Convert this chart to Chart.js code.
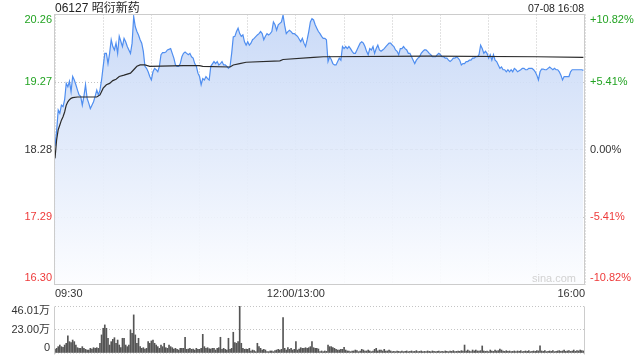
<!DOCTYPE html>
<html><head><meta charset="utf-8">
<script src="https://cdn.jsdelivr.net/npm/chart.js@4.4.1/dist/chart.umd.min.js"></script>
<style>
html,body{margin:0;padding:0;background:#fff;width:640px;height:360px;overflow:hidden}
#wrapA{position:absolute;left:0;top:0;width:640px;height:300px}
#wrapB{position:absolute;left:0;top:300px;width:640px;height:60px}
canvas{display:block}
</style></head>
<body>
<div id="wrapA"><canvas id="price" width="640" height="300"></canvas></div>
<div id="wrapB"><canvas id="vol" width="640" height="60"></canvas></div>
<script>
// ---------- data ----------
const title = '06127 昭衍新药';
const stamp = '07-08 16:08';
const prevClose = 18.28;
const priceTicks = [16.30, 17.29, 18.28, 19.27, 20.26];
const pctLabels = ['-10.82%', '-5.41%', '0.00%', '+5.41%', '+10.82%'];
const gridMinutes = [0, 30, 60, 90, 120, 150, 180, 210, 240, 270, 300, 330];
const timeTicks = [0, 150, 330];
const timeLabels = ['09:30', '12:00/13:00', '16:00'];
const volTicks = [0, 23.00, 46.01];
const volLabels = ['0', '23.00万', '46.01万'];

// price per trading minute since 09:30 (null = not read)
const price = [
18.33,18.55,18.86,18.81,18.93,18.91,19.01,19.25,19.20,19.28,
19.13,19.35,19.30,19.23,19.15,19.08,19.06,18.93,19.06,19.23,
19.03,18.96,18.88,18.93,18.98,19.06,19.15,19.08,19.15,19.30,
19.50,19.69,19.69,19.54,19.69,19.89,19.79,19.74,19.84,19.69,
19.94,null,19.79,19.91,19.86,19.79,19.74,19.69,19.84,20.23,
20.08,20.01,19.96,19.89,19.84,19.72,19.50,19.47,19.42,19.35,
19.30,19.42,19.47,19.45,19.42,19.50,19.67,19.70,19.70,19.71,
19.74,null,19.76,19.69,19.62,19.52,19.50,19.50,19.54,19.64,
19.69,19.71,19.69,19.67,19.69,19.64,19.62,19.54,19.50,19.40,
19.35,19.23,19.32,19.30,19.35,19.32,19.30,19.50,null,19.57,
19.54,19.57,19.52,19.54,19.57,19.52,19.52,19.50,19.47,19.50,
19.69,19.93,19.94,20.01,20.06,19.98,19.94,19.96,19.86,19.81,
19.86,19.81,19.84,19.89,19.91,null,19.96,19.98,20.01,19.98,
19.89,19.94,19.98,19.96,19.98,20.01,20.15,20.11,20.03,20.11,
20.13,20.15,20.25,20.10,19.98,20.01,20.03,20.01,19.98,19.98,
19.96,19.94,null,19.86,19.91,19.84,19.79,19.89,20.01,20.15,
20.20,20.18,20.11,20.06,20.01,19.98,19.94,19.91,19.91,19.89,
19.57,19.64,19.60,19.54,19.52,19.52,19.57,19.62,19.59,19.79,
19.76,19.79,19.76,19.79,19.76,19.72,19.69,19.69,19.74,19.79,
19.84,19.86,19.84,19.79,19.72,19.67,19.76,19.74,19.79,19.69,
19.76,19.81,19.74,19.72,19.74,19.76,19.79,null,19.84,19.84,
19.81,19.79,19.74,19.72,19.67,19.76,19.76,19.79,19.76,19.74,
19.69,19.69,19.64,19.59,19.54,19.59,19.62,19.64,19.69,19.72,
19.74,19.74,19.72,19.69,19.67,19.64,19.64,19.64,19.67,19.69,
19.67,19.64,19.64,19.62,19.62,19.59,19.57,19.59,19.62,19.62,
19.64,19.62,19.59,19.52,19.54,19.54,19.57,19.57,19.59,19.59,
19.62,19.62,19.64,19.64,19.67,19.81,19.76,19.69,19.72,19.69,
19.62,19.67,19.59,19.67,19.59,19.57,19.52,19.47,19.49,19.45,
19.45,19.42,19.45,19.42,19.45,19.42,19.47,19.45,19.42,null,
19.45,19.47,19.47,19.45,19.45,19.47,19.47,19.47,19.45,19.42,
19.37,19.30,19.42,19.46,19.46,19.45,19.45,19.47,19.49,19.47,
19.45,19.47,19.45,19.45,19.42,19.37,19.30,19.35,19.35,19.35,
19.35,19.42,19.45,19.45,19.45,19.45,19.45,19.45,19.45,19.44
];

// average price line, read at these minutes
const avgMinute = [0,1,2,3,4,5,6,7,8,9,10,11,14,26,28,30,32,34,36,38,40,43,47,49,51,53,56,59,80,90,92,109,111,115,119,140,142,161,167,233,300,329];
const avgValue  = [18.15,18.42,18.57,18.64,18.71,18.76,18.83,18.93,18.98,19.01,19.03,19.04,19.05,19.05,19.08,19.18,19.23,19.25,19.29,19.31,19.35,19.37,19.40,19.45,19.50,19.52,19.52,19.50,19.51,19.51,19.50,19.49,19.52,19.54,19.56,19.58,19.60,19.63,19.64,19.65,19.64,19.63];

// volume per minute, in 万
const volume = [
3.6,4.6,6.2,7.8,6.2,5.6,7.8,9.5,16.7,11.1,
10.1,12.7,11.1,7.8,5.2,4.6,4.6,6.2,4.6,3.6,
2.9,2.9,4.6,3.9,5.2,4.6,5.2,4.6,9.5,17.7,
24.2,27.5,24.2,14.4,7.8,11.1,13.4,15.0,9.5,12.7,
7.8,5.2,14.4,14.4,7.8,6.2,7.8,22.6,19.3,37.3,
17.7,9.5,14.4,6.2,4.6,5.2,3.9,4.6,11.1,9.5,
11.8,12.7,9.5,7.8,6.2,4.6,7.8,6.2,9.5,5.2,
4.6,7.8,6.2,5.2,3.9,4.6,3.6,2.9,4.6,4.6,
4.6,15.4,3.6,3.9,4.6,3.6,3.9,2.9,4.6,3.6,
3.6,4.6,18.3,6.2,4.6,5.2,4.2,3.9,4.6,4.6,
2.9,4.6,5.2,15.4,3.6,4.6,3.6,2.9,14.4,3.6,
4.6,20.3,10.1,9.5,11.1,46.0,9.5,4.6,3.6,3.9,
3.6,4.6,2.0,2.9,2.3,1.3,9.5,6.2,4.6,2.9,
3.6,2.9,1.3,1.3,2.0,2.0,1.3,2.3,2.9,3.6,
2.9,3.6,34.7,4.6,2.9,5.2,3.6,4.6,2.9,3.6,
11.1,2.9,3.9,5.2,4.6,4.6,5.2,4.6,5.2,6.2,
11.1,5.2,4.6,4.6,3.9,1.3,2.0,1.3,2.0,1.6,
7.8,6.2,6.2,5.2,4.6,3.6,2.9,2.9,3.6,3.6,
5.6,2.9,2.0,2.0,1.3,2.0,2.0,2.9,2.3,1.3,
2.0,3.6,2.9,2.0,2.0,2.9,2.0,1.3,2.0,3.6,
4.6,2.0,2.9,2.9,2.0,3.6,2.0,2.0,2.9,2.0,
1.3,1.6,1.3,2.0,1.6,1.3,2.0,1.3,1.6,2.0,
1.3,1.6,2.0,1.3,1.6,2.3,1.3,1.6,2.0,1.3,
1.6,1.3,2.0,1.6,1.3,2.0,1.6,1.3,1.6,2.0,
1.3,1.6,1.3,2.0,1.6,1.3,2.0,1.6,2.3,1.3,
1.6,2.0,1.6,2.3,2.0,7.8,2.0,2.9,2.0,1.3,
2.9,2.0,2.9,2.0,2.0,2.3,6.9,2.0,1.6,2.0,
1.3,2.9,2.0,1.6,2.9,2.0,2.3,3.9,2.9,2.0,
1.6,2.3,1.6,2.0,1.3,1.6,2.0,1.3,2.0,1.6,
2.3,1.3,1.6,2.0,1.6,2.3,1.3,1.6,2.0,1.6,
2.3,2.0,6.9,2.0,1.6,2.3,1.3,1.6,2.0,1.6,
2.3,1.3,1.6,2.0,2.3,1.6,2.0,2.9,1.6,2.0,
2.3,1.6,2.0,2.9,1.6,2.3,2.0,2.9,2.3,2.0
];

// ---------- styling ----------
const FONT = "'Liberation Sans', Arial, 'Noto Sans CJK SC', sans-serif";
const GREEN = '#22a322';
const RED = '#ee3a3a';
const DARK = '#333333';
const GRID = '#c4c4c4';
const BORDER = '#cccccc';

function crispBox(ctx, a) {
  const x1 = Math.round(a.left) - 0.5, x2 = Math.round(a.right) - 0.5;
  const y1 = Math.floor(a.top) + 0.5, y2 = Math.floor(a.bottom) + 0.5;
  return {x1, x2, y1, y2};
}

const pricePlugin = {
  id: 'priceDecor',
  beforeDatasetsDraw(chart) {
    const {ctx, chartArea: a, scales: {y}} = chart;
    const py = Math.floor(y.getPixelForValue(prevClose)) + 0.5;
    ctx.save();
    ctx.strokeStyle = '#b2b2b2';
    ctx.lineWidth = 1;
    ctx.setLineDash([3, 2]);
    ctx.beginPath(); ctx.moveTo(a.left, py); ctx.lineTo(a.right, py); ctx.stroke();
    ctx.restore();
  },
  afterDraw(chart) {
    const {ctx, chartArea: a, scales: {x, y}} = chart;
    const b = crispBox(ctx, a);
    ctx.save();
    ctx.strokeStyle = BORDER; ctx.lineWidth = 1; ctx.setLineDash([]);
    ctx.strokeRect(b.x1, b.y1, b.x2 - b.x1, b.y2 - b.y1);

    // price + percent labels
    ctx.font = '11px ' + FONT;
    ctx.textBaseline = 'middle';
    priceTicks.forEach((v, i) => {
      let py = y.getPixelForValue(v);
      if (i === 0) py -= 6.5;
      if (i === priceTicks.length - 1) py += 5.5;
      const col = v > prevClose + 1e-9 ? GREEN : (v < prevClose - 1e-9 ? RED : DARK);
      ctx.fillStyle = col;
      ctx.textAlign = 'right';
      ctx.fillText(v.toFixed(2), a.left - 3, py);
      ctx.textAlign = 'left';
      ctx.fillText(pctLabels[i], a.right + 5, py);
    });

    // time labels
    ctx.fillStyle = DARK;
    timeTicks.forEach((m, i) => {
      const px = x.getPixelForValue(m);
      ctx.textAlign = i === 0 ? 'left' : (i === timeTicks.length - 1 ? 'right' : 'center');
      ctx.fillText(timeLabels[i], px, a.bottom + 9);
    });

    // watermark
    ctx.fillStyle = '#d2d2d2';
    ctx.textAlign = 'right';
    ctx.fillText('sina.com', a.right - 9, a.bottom - 6);

    // title + stamp
    ctx.textBaseline = 'alphabetic';
    ctx.fillStyle = '#222';
    ctx.textAlign = 'left';
    ctx.font = "12px 'Liberation Sans', Arial, 'Noto Sans CJK SC', sans-serif";
    ctx.fillText(title, a.left, 12);
    ctx.textAlign = 'right';
    ctx.font = "10.5px " + FONT;
    ctx.fillText(stamp, a.right - 1, 11.5);
    ctx.restore();
  }
};

const volPlugin = {
  id: 'volDecor',
  afterDraw(chart) {
    const {ctx, chartArea: a, scales: {y}} = chart;
    const b = crispBox(ctx, a);
    ctx.save();
    ctx.strokeStyle = BORDER; ctx.lineWidth = 1;
    ctx.beginPath();
    ctx.moveTo(b.x1, b.y1); ctx.lineTo(b.x1, b.y2 + 1);
    ctx.moveTo(b.x2, b.y1); ctx.lineTo(b.x2, b.y2 + 1);
    ctx.stroke();
    ctx.font = '11px ' + FONT;
    ctx.textBaseline = 'middle';
    ctx.textAlign = 'right';
    ctx.fillStyle = DARK;
    volTicks.forEach((v, i) => {
      let py = y.getPixelForValue(v);
      if (i === 0) py -= 5;
      if (i === volTicks.length - 1) py += 5;
      ctx.fillText(volLabels[i], a.left - 5, py);
    });
    ctx.restore();
  }
};

// ---------- price chart ----------
new Chart(document.getElementById('price'), {
  type: 'line',
  data: {
    datasets: [
      {
        label: '均价',
        data: avgMinute.map((m, i) => ({x: m, y: avgValue[i]})),
        borderColor: '#2b2b2b',
        borderWidth: 1.2,
        pointRadius: 0,
        fill: false,
        order: 0
      },
      {
        label: '价格',
        data: price.map((v, i) => ({x: i, y: v})),
        borderColor: '#4f8ef0',
        borderWidth: 1.2,
        pointRadius: 0,
        spanGaps: true,
        fill: 'start',
        order: 1,
        backgroundColor: (c) => {
          const a = c.chart.chartArea;
          if (!a) return 'rgba(200,218,247,0.7)';
          const g = c.chart.ctx.createLinearGradient(0, a.top, 0, a.bottom);
          g.addColorStop(0, 'rgba(196,214,246,0.9)');
          g.addColorStop(1, 'rgba(252,253,255,0.9)');
          return g;
        }
      }
    ]
  },
  options: {
    responsive: false,
    animation: false,
    devicePixelRatio: 1,
    events: [],
    layout: {padding: {left: 55, right: 55, top: 14.5, bottom: 15.5}},
    plugins: {legend: {display: false}, tooltip: {enabled: false}},
    scales: {
      x: {
        type: 'linear', min: 0, max: 330,
        afterBuildTicks: (s) => { s.ticks = gridMinutes.map(v => ({value: v})); },
        afterFit: (s) => { s.height = 0; },
        ticks: {display: false},
        grid: {color: GRID, lineWidth: 1, drawTicks: false},
        border: {display: false, dash: [1, 2]}
      },
      y: {
        type: 'linear', min: priceTicks[0], max: priceTicks[priceTicks.length - 1],
        afterBuildTicks: (s) => { s.ticks = priceTicks.map(v => ({value: v})); },
        afterFit: (s) => { s.width = 0; },
        ticks: {display: false},
        grid: {
          color: (c) => (c.tick && Math.abs(c.tick.value - prevClose) < 1e-6) ? 'rgba(0,0,0,0)' : GRID,
          lineWidth: 1, drawTicks: false
        },
        border: {display: false, dash: [1, 2]}
      }
    }
  },
  plugins: [pricePlugin]
});

// ---------- volume chart ----------
new Chart(document.getElementById('vol'), {
  type: 'bar',
  data: {
    datasets: [{
      label: '成交量',
      data: volume.map((v, i) => ({x: i, y: v})),
      backgroundColor: '#555555',
      barThickness: 1,
      borderWidth: 0
    }]
  },
  options: {
    responsive: false,
    animation: false,
    devicePixelRatio: 1,
    events: [],
    layout: {padding: {left: 55, right: 55, top: 6, bottom: 7}},
    plugins: {legend: {display: false}, tooltip: {enabled: false}},
    scales: {
      x: {
        type: 'linear', min: 0, max: 330, offset: false,
        afterFit: (s) => { s.height = 0; },
        ticks: {display: false},
        grid: {display: false, drawTicks: false},
        border: {display: false}
      },
      y: {
        type: 'linear', min: 0, max: volTicks[volTicks.length - 1],
        afterBuildTicks: (s) => { s.ticks = volTicks.map(v => ({value: v})); },
        afterFit: (s) => { s.width = 0; },
        ticks: {display: false},
        grid: {
          color: (c) => (c.tick && c.tick.value === 0) ? '#dddddd' : GRID,
          lineWidth: 1, drawTicks: false
        },
        border: {display: false, dash: [1, 2]}
      }
    }
  },
  plugins: [volPlugin]
});
</script>
</body></html>
